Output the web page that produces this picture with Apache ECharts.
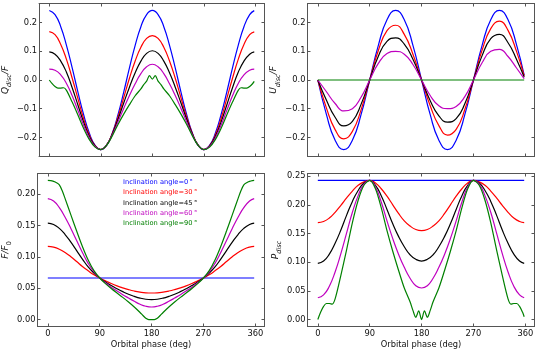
<!DOCTYPE html>
<html>
<head>
<meta charset="utf-8">
<script src="https://cdn.jsdelivr.net/npm/echarts@6/dist/echarts.min.js"></script>
<style>
  html, body { margin: 0; background: #fff; }
  #chart { width: 540px; height: 360px; }
</style>
</head>
<body>
<div id="chart"></div>
<script>
// orbital phase samples (deg)
const phase = [0,10,20,30,40,50,60,70,80,90,100,110,120,130,140,150,160,170,180,
  190,200,210,220,230,240,250,260,270,280,290,300,310,320,330,340,350,358];
const phase15 = [0,15,30,45,60,75,90,105,120,135,150,165,180,195,210,225,240,255,270,285,300,315,330,345,358];
const phaseFine = [0,5,10,15,20,25,30,40,50,60,70,80,90,100,110,120,130,140,150,160,
  165,170,175,180,185,190,195,200,210,220,230,240,250,260,270,280,290,300,310,320,330,
  335,340,345,350,355,358];
const phaseEnds = [0, 358];
const xTicks = [0, 90, 180, 270, 360];

const inclNames = ['Inclination angle=0\u2009°', 'Inclination angle=30\u2009°', 'Inclination angle=45\u2009°',
  'Inclination angle=60\u2009°', 'Inclination angle=90\u2009°'];
const inclColors = ['#0000ff', '#ff0000', '#000000', '#bf00bf', '#008000'];

// Q_disc / F  (on phase)
const qBlue = [0.2425,0.228,0.186,0.121,0.042,-0.042,-0.121,-0.186,-0.228,-0.2425,-0.228,-0.186,-0.121,-0.042,0.042,0.121,0.186,0.228,0.2425,
  0.228,0.186,0.121,0.042,-0.042,-0.121,-0.186,-0.228,-0.2425,-0.228,-0.186,-0.121,-0.042,0.042,0.121,0.186,0.228,0.242];
const qRed = [0.169,0.158,0.124,0.072,0.006,-0.065,-0.135,-0.192,-0.229,-0.2425,-0.227,-0.187,-0.129,-0.062,0.006,0.066,0.114,0.145,0.155,
  0.145,0.114,0.066,0.006,-0.062,-0.129,-0.187,-0.227,-0.2425,-0.229,-0.192,-0.135,-0.065,0.006,0.072,0.124,0.158,0.168];
const qBlack = [0.098,0.090,0.066,0.027,-0.027,-0.087,-0.147,-0.197,-0.230,-0.2425,-0.227,-0.189,-0.137,-0.080,-0.025,0.025,0.066,0.093,0.102,
  0.093,0.066,0.025,-0.025,-0.080,-0.137,-0.189,-0.227,-0.2425,-0.230,-0.197,-0.147,-0.087,-0.027,0.027,0.066,0.090,0.098];
const qMagenta = [0.038,0.034,0.018,-0.012,-0.055,-0.106,-0.158,-0.202,-0.232,-0.2425,-0.227,-0.192,-0.146,-0.099,-0.054,-0.013,0.022,0.046,0.055,
  0.046,0.022,-0.013,-0.054,-0.099,-0.146,-0.192,-0.227,-0.2425,-0.232,-0.202,-0.158,-0.106,-0.055,-0.012,0.018,0.034,0.038];
// on phaseFine
const qGreen = [0,-0.013,-0.023,-0.028,-0.028,-0.027,-0.036,-0.077,-0.122,-0.169,-0.208,-0.234,-0.2425,-0.228,-0.195,-0.155,-0.119,-0.086,-0.055,-0.031,
  -0.016,-0.004,0.015,0.003,0.015,-0.004,-0.016,-0.031,-0.055,-0.086,-0.119,-0.155,-0.195,-0.228,-0.2425,-0.234,-0.208,-0.169,-0.122,-0.077,-0.036,
  -0.027,-0.028,-0.028,-0.023,-0.013,-0.005];

// U_disc / F  (on phase15)
const uBlue = [0,-0.121,-0.210,-0.2425,-0.210,-0.121,0,0.121,0.210,0.2425,0.210,0.121,0,
  -0.121,-0.210,-0.2425,-0.210,-0.121,0,0.121,0.210,0.2425,0.210,0.121,0.017];
const uRed = [0,-0.098,-0.173,-0.205,-0.179,-0.104,0,0.103,0.172,0.191,0.159,0.090,0,
  -0.090,-0.159,-0.192,-0.172,-0.103,0,0.104,0.179,0.205,0.173,0.098,0.014];
const uBlack = [0,-0.071,-0.130,-0.160,-0.144,-0.085,0,0.083,0.135,0.147,0.125,0.072,0,
  -0.072,-0.125,-0.147,-0.135,-0.083,0,0.085,0.144,0.159,0.130,0.071,0.010];
const uMagenta = [0,-0.041,-0.082,-0.108,-0.100,-0.060,0,0.058,0.092,0.100,0.090,0.054,0,
  -0.054,-0.090,-0.100,-0.092,-0.058,0,0.060,0.100,0.107,0.082,0.041,0.005];
const uGreen = [0, 0];

// F / F0
const fBlue = [0.0663, 0.0663];
const fRed = [0.1167,0.1156,0.1123,0.1070,0.1003,0.0926,0.0847,0.0778,0.0715,0.0663,0.0617,0.0575,0.0538,0.0506,0.0478,0.0455,0.0438,0.0427,0.0424,
  0.0427,0.0438,0.0455,0.0478,0.0506,0.0538,0.0575,0.0617,0.0663,0.0715,0.0778,0.0847,0.0926,0.1003,0.1070,0.1123,0.1156,0.1167];
const fBlack = [0.154,0.1518,0.1455,0.1357,0.1235,0.1100,0.0965,0.0840,0.0742,0.0663,0.0599,0.0542,0.0491,0.0445,0.0404,0.0370,0.0342,0.0324,0.0318,
  0.0324,0.0342,0.0370,0.0404,0.0445,0.0491,0.0542,0.0599,0.0663,0.0742,0.0840,0.0965,0.1100,0.1235,0.1357,0.1455,0.1518,0.154];
const fMagenta = [0.193,0.1892,0.1786,0.1633,0.1453,0.1260,0.1070,0.0897,0.0762,0.0663,0.0586,0.0517,0.0455,0.0397,0.0343,0.0291,0.0244,0.0212,0.020,
  0.0212,0.0244,0.0291,0.0343,0.0397,0.0455,0.0517,0.0586,0.0663,0.0762,0.0897,0.1070,0.1260,0.1453,0.1633,0.1786,0.1892,0.193];
const fGreen = [0.222,0.2217,0.2205,0.2185,0.215,0.2055,0.193,0.167,0.1413,0.1167,0.095,0.078,0.0663,0.0574,0.0496,0.0424,0.0354,0.028,0.020,0.0113,
  0.0065,0.002,0,0,0,0.002,0.0065,0.0113,0.020,0.028,0.0354,0.0424,0.0496,0.0574,0.0663,0.078,0.095,0.1167,0.1413,0.167,0.193,
  0.2055,0.215,0.2185,0.2205,0.2217,0.222];

// P_disc
const pBlue = [0.2425, 0.2425];
const pRed = [0.169,0.171,0.177,0.187,0.199,0.212,0.224,0.234,0.240,0.2425,0.238,0.228,0.215,0.200,0.185,0.172,0.163,0.157,0.155,
  0.157,0.163,0.172,0.185,0.200,0.215,0.228,0.238,0.2425,0.240,0.234,0.224,0.212,0.199,0.187,0.177,0.171,0.169];
const pBlack = [0.098,0.102,0.114,0.133,0.156,0.182,0.206,0.225,0.238,0.2425,0.234,0.216,0.192,0.167,0.145,0.127,0.113,0.105,0.102,
  0.105,0.113,0.127,0.145,0.167,0.192,0.216,0.234,0.2425,0.238,0.225,0.206,0.182,0.156,0.133,0.114,0.102,0.098];
const pMagenta = [0.038,0.043,0.058,0.083,0.115,0.151,0.187,0.216,0.236,0.2425,0.231,0.205,0.172,0.141,0.114,0.091,0.072,0.059,0.055,
  0.059,0.072,0.091,0.114,0.141,0.172,0.205,0.231,0.2425,0.236,0.216,0.187,0.151,0.115,0.083,0.058,0.043,0.038];
const pGreen = [0,0.013,0.023,0.028,0.028,0.027,0.036,0.077,0.122,0.169,0.208,0.234,0.2425,0.228,0.195,0.155,0.119,0.086,0.055,0.031,
  0.016,0.004,0.015,0,0.015,0.004,0.016,0.031,0.055,0.086,0.119,0.155,0.195,0.228,0.2425,0.234,0.208,0.169,0.122,0.077,0.036,
  0.027,0.028,0.028,0.023,0.013,0.005];

const qTicks = [-0.2, -0.1, 0, 0.1, 0.2];
const fTicks = [0, 0.05, 0.1, 0.15, 0.2];
const pTicks = [0, 0.05, 0.1, 0.15, 0.2, 0.25];

const font = 'DejaVu Sans';
const axisColor = '#555';
const textColor = '#111';

const chart = echarts.init(document.getElementById('chart'));

const grids = [
  { left: 37.5, top: 3.5, width: 227, height: 153 },
  { left: 307.5, top: 3.5, width: 227, height: 153 },
  { left: 37.5, top: 173.5, width: 227, height: 153 },
  { left: 307.5, top: 173.5, width: 227, height: 153 }
];

const fmt = digits => v => v.toFixed(digits).replace('-', '\u2212');

const nameRich = {
  i: { fontFamily: font, fontStyle: 'italic', fontSize: 9, color: textColor, lineHeight: 11 },
  r: { fontFamily: font, fontSize: 6.5, color: textColor, lineHeight: 15, verticalAlign: 'bottom' },
  s: { fontFamily: font, fontStyle: 'italic', fontSize: 6.5, color: textColor, lineHeight: 15, verticalAlign: 'bottom' }
};

const xAxes = [];
const yAxes = [];
grids.forEach((g, gi) => {
  const bottomRow = gi >= 2;
  const xBase = {
    type: 'value', gridIndex: gi, min: -17.9, max: 375.9,
    splitLine: { show: false },
    axisLine: { show: true, onZero: false, lineStyle: { color: axisColor, width: 1 } },
    axisTick: { show: true, inside: true, length: 3, customValues: xTicks, lineStyle: { color: axisColor } }
  };
  xAxes.push(Object.assign({}, xBase, {
    position: 'bottom',
    axisLabel: { show: bottomRow, customValues: xTicks, margin: 3, fontSize: 8.3, fontFamily: font, color: textColor },
    name: bottomRow ? 'Orbital phase (deg)' : '',
    nameLocation: 'middle', nameGap: 14,
    nameTextStyle: { fontSize: 8.3, fontFamily: font, color: textColor }
  }));
  xAxes.push(Object.assign({}, xBase, { position: 'top', axisLabel: { show: false } }));
});

const yDefs = [
  { min: -0.2668, max: 0.2668, ticks: qTicks, digits: 1, name: '{i|Q}{s|disc}{i|/F}', gap: 23 },
  { min: -0.2668, max: 0.2668, ticks: qTicks, digits: 1, name: '{i|U}{s|disc}{i|/F}', gap: 22 },
  { min: -0.0111, max: 0.2331, ticks: fTicks, digits: 2, name: '{i|F/F}{r|0}', gap: 23 },
  { min: -0.0121, max: 0.2546, ticks: pTicks, digits: 2, name: '{i|P}{s|disc}', gap: 22 }
];
yDefs.forEach((d, gi) => {
  const yBase = {
    type: 'value', gridIndex: gi, min: d.min, max: d.max,
    splitLine: { show: false },
    axisLine: { show: true, onZero: false, lineStyle: { color: axisColor, width: 1 } },
    axisTick: { show: true, inside: true, length: 3, customValues: d.ticks, lineStyle: { color: axisColor } }
  };
  yAxes.push(Object.assign({}, yBase, {
    position: 'left',
    axisLabel: { customValues: d.ticks, formatter: fmt(d.digits), margin: 2, fontSize: 8.3, fontFamily: font, color: textColor },
    name: d.name, nameLocation: 'middle', nameGap: d.gap,
    nameTextStyle: { rich: nameRich }
  }));
  yAxes.push(Object.assign({}, yBase, { position: 'right', axisLabel: { show: false } }));
});

const pickPhase = ys => {
  if (ys.length === phaseEnds.length) return phaseEnds;
  if (ys.length === phase15.length) return phase15;
  if (ys.length === phaseFine.length) return phaseFine;
  return phase;
};

const line = (k, ys, gi) => {
  const xs = pickPhase(ys);
  return {
    type: 'line', name: inclNames[k], xAxisIndex: gi * 2, yAxisIndex: gi * 2,
    data: xs.map((x, j) => [x, ys[j]]),
    symbol: 'none', smooth: k === 4 ? 0.3 : 0.5, silent: true,
    lineStyle: { color: inclColors[k], width: 1.2 },
    itemStyle: { color: inclColors[k] }
  };
};

const panels = [
  [qBlue, qRed, qBlack, qMagenta, qGreen],
  [uBlue, uRed, uBlack, uMagenta, uGreen],
  [fBlue, fRed, fBlack, fMagenta, fGreen],
  [pBlue, pRed, pBlack, pMagenta, pGreen]
];

const series = [];
panels.forEach((sets, gi) => {
  sets.forEach((ys, k) => series.push(line(k, ys, gi)));
});

chart.setOption({
  animation: false,
  backgroundColor: '#fff',
  grid: grids,
  xAxis: xAxes,
  yAxis: yAxes,
  legend: {
    orient: 'vertical', left: 118, top: 179, padding: 0, selectedMode: false,
    itemWidth: 0, itemHeight: 6.7, itemGap: 3.2, icon: 'none',
    textStyle: { fontFamily: font, fontSize: 6.7 },
    data: inclNames.map((n, k) => ({ name: n, textStyle: { color: inclColors[k] } }))
  },
  series: series
});
</script>
</body>
</html>
